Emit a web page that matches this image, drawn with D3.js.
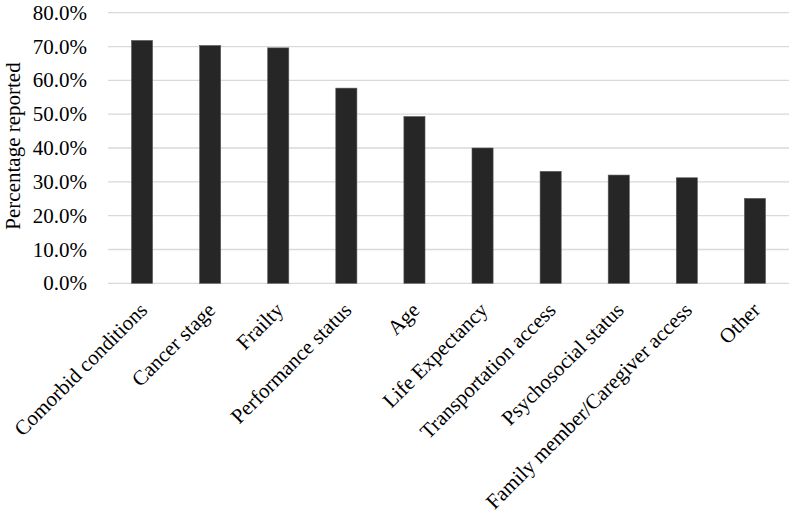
<!DOCTYPE html>
<html>
<head>
    <script type="text/javascript" src="https://cdn.jsdelivr.net/npm/d3@7/dist/d3.min.js"></script>
    <style>
        body { margin: 0; background: #fff; }
        text { font-family: "Liberation Serif", "Times New Roman", serif; fill: #000; }
    </style>
</head>
<body>
    <div id="viz"></div>
    <script type="text/javascript">

    // data
    var categories = ["Comorbid conditions", "Cancer stage", "Frailty", "Performance status", "Age",
        "Life Expectancy", "Transportation access", "Psychosocial status",
        "Family member/Caregiver access", "Other"];
    var values = [71.8, 70.3, 69.6, 57.7, 49.3, 40.0, 33.1, 32.0, 31.2, 25.1];
    var yTicks = [0, 10, 20, 30, 40, 50, 60, 70, 80];

    // plot box (window.top is taken, so not "top")
    var W = 793, H = 516;
    var plotL = 108, plotR = 789, plotT = 12.7, plotB = 283.3;

    var svg = d3.select("#viz").append("svg")
        .attr("width", W)
        .attr("height", H);

    var x = d3.scaleBand()
        .domain(categories)
        .range([plotL, plotR])
        .paddingInner(0.69)
        .paddingOuter(0.345);

    var y = d3.scaleLinear()
        .domain([0, 80])
        .range([plotB, plotT]);

    // gridlines
    svg.append("g").selectAll("line")
        .data(yTicks)
        .enter().append("line")
        .attr("x1", plotL)
        .attr("x2", plotR)
        .attr("y1", function (d) { return y(d); })
        .attr("y2", function (d) { return y(d); })
        .style("stroke", "#d9d9d9")
        .style("stroke-width", 1.3);

    // y tick labels
    svg.append("g").selectAll("text")
        .data(yTicks)
        .enter().append("text")
        .attr("x", 87)
        .attr("y", function (d) { return y(d); })
        .attr("dy", "0.34em")
        .attr("text-anchor", "end")
        .style("font-size", "21px")
        .text(function (d) { return d.toFixed(1) + "%"; });

    // bars
    svg.append("g").selectAll("rect")
        .data(values)
        .enter().append("rect")
        .attr("x", function (d, i) { return x(categories[i]); })
        .attr("width", x.bandwidth())
        .attr("y", function (d) { return y(d); })
        .attr("height", function (d) { return y(0) - y(d); })
        .style("fill", "#262626")
        .style("stroke", "#5a5a5a")
        .style("stroke-width", 0.6);

    // x labels, rotated
    svg.append("g").selectAll("text")
        .data(categories)
        .enter().append("text")
        .attr("text-anchor", "end")
        .attr("transform", function (d) {
            var cx = x(d) + x.bandwidth() / 2;
            return "translate(" + (cx - 4) + "," + 301 + ") rotate(-45)";
        })
        .attr("dy", "0.7em")
        .style("font-size", "21px")
        .text(function (d) { return d; });

    // y axis title
    svg.append("text")
        .attr("transform", "translate(20,146) rotate(-90)")
        .attr("text-anchor", "middle")
        .style("font-size", "21px")
        .text("Percentage reported");

    </script>
</body>
</html>
